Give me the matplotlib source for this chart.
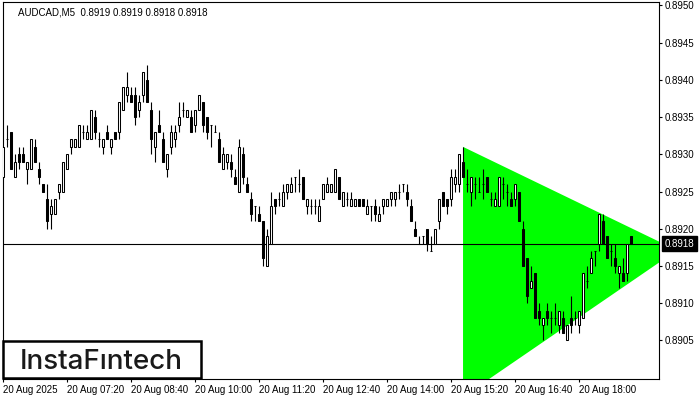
import matplotlib
matplotlib.use("Agg")
import matplotlib.pyplot as plt
import matplotlib.patches as patches
import matplotlib.transforms as mtransforms

# AUDCAD M5 candles, 06:00 .. 19:05 (20 Aug 2025)
opens = [
    0.8927, 0.8932, 0.8933, 0.8927, 0.8930, 0.8930, 0.8928, 0.8928, 0.8931, 0.8928,
    0.8926, 0.8924, 0.8922, 0.8922, 0.8925, 0.8925, 0.8928, 0.8931, 0.8931, 0.8931,
    0.8933, 0.8932, 0.8932, 0.8935, 0.8932, 0.8931, 0.8933, 0.8931, 0.8933, 0.8933,
    0.8936, 0.8938, 0.8938, 0.8938, 0.8936, 0.8938, 0.8940, 0.8936, 0.8931, 0.8934,
    0.8932, 0.8928, 0.8931, 0.8932, 0.8934, 0.8936, 0.8935, 0.8935, 0.8934, 0.8936,
    0.8937, 0.8935, 0.8934, 0.8933, 0.8932, 0.8928, 0.8929, 0.8929, 0.8927, 0.8925,
    0.8930, 0.8926, 0.8924, 0.8923, 0.8922, 0.8921, 0.8915, 0.8918, 0.8924, 0.8924,
    0.8923, 0.8925, 0.8925, 0.8927, 0.8926, 0.8927, 0.8923, 0.8923, 0.8923, 0.8921,
    0.8924, 0.8925, 0.8925, 0.8925, 0.8927, 0.8923, 0.8924, 0.8923, 0.8923, 0.8924,
    0.8924, 0.8922, 0.8923, 0.8923, 0.8921, 0.8923, 0.8923, 0.8924, 0.8924, 0.8925,
    0.8926, 0.8925, 0.8923, 0.8920, 0.8918, 0.8919, 0.8920, 0.8917, 0.8918, 0.8921,
    0.8925, 0.8924, 0.8924, 0.8926, 0.8926, 0.8929, 0.8926, 0.8925, 0.8926, 0.8925,
    0.8926, 0.8927, 0.8924, 0.8923, 0.8923, 0.8926, 0.8925, 0.8924, 0.8924, 0.8925,
    0.8920, 0.8916, 0.8912, 0.8914, 0.8909, 0.8907, 0.8909, 0.8908, 0.8908, 0.8907,
    0.8908, 0.8905, 0.8908, 0.8908, 0.8907, 0.8908, 0.8913, 0.8914, 0.8917, 0.8918,
    0.8921, 0.8919, 0.8917, 0.8916, 0.8914, 0.8914, 0.8914, 0.8919,
]
highs = [
    0.8931, 0.8934, 0.8933, 0.8930, 0.8931, 0.8931, 0.8929, 0.8932, 0.8932, 0.8929,
    0.8926, 0.8926, 0.8924, 0.8924, 0.8926, 0.8929, 0.8930, 0.8932, 0.8932, 0.8934,
    0.8934, 0.8934, 0.8936, 0.8936, 0.8933, 0.8932, 0.8934, 0.8932, 0.8933, 0.8937,
    0.8939, 0.8941, 0.8939, 0.8939, 0.8938, 0.8941, 0.8942, 0.8937, 0.8933, 0.8936,
    0.8933, 0.8930, 0.8934, 0.8934, 0.8937, 0.8937, 0.8936, 0.8936, 0.8936, 0.8938,
    0.8937, 0.8935, 0.8934, 0.8934, 0.8933, 0.8931, 0.8930, 0.8930, 0.8928, 0.8932,
    0.8931, 0.8927, 0.8925, 0.8923, 0.8923, 0.8921, 0.8920, 0.8925, 0.8924, 0.8925,
    0.8926, 0.8926, 0.8927, 0.8927, 0.8928, 0.8927, 0.8924, 0.8924, 0.8924, 0.8924,
    0.8926, 0.8927, 0.8926, 0.8928, 0.8927, 0.8925, 0.8925, 0.8925, 0.8924, 0.8924,
    0.8924, 0.8924, 0.8923, 0.8924, 0.8923, 0.8924, 0.8924, 0.8925, 0.8925, 0.8926,
    0.8926, 0.8926, 0.8924, 0.8921, 0.8919, 0.8919, 0.8920, 0.8919, 0.8920, 0.8924,
    0.8925, 0.8924, 0.8928, 0.8928, 0.8930, 0.8931, 0.8928, 0.8927, 0.8927, 0.8927,
    0.8928, 0.8927, 0.8925, 0.8925, 0.8927, 0.8927, 0.8926, 0.8925, 0.8926, 0.8925,
    0.8921, 0.8916, 0.8915, 0.8914, 0.8910, 0.8908, 0.8910, 0.8909, 0.8910, 0.8909,
    0.8909, 0.8907, 0.8911, 0.8909, 0.8909, 0.8914, 0.8915, 0.8917, 0.8917, 0.8922,
    0.8922, 0.8919, 0.8918, 0.8918, 0.8915, 0.8916, 0.8918, 0.8919,
]
lows = [
    0.8927, 0.8931, 0.8928, 0.8927, 0.8928, 0.8929, 0.8926, 0.8928, 0.8929, 0.8926,
    0.8925, 0.8920, 0.8920, 0.8922, 0.8924, 0.8925, 0.8928, 0.8930, 0.8931, 0.8931,
    0.8932, 0.8932, 0.8932, 0.8932, 0.8931, 0.8930, 0.8932, 0.8930, 0.8932, 0.8932,
    0.8936, 0.8937, 0.8937, 0.8934, 0.8935, 0.8937, 0.8937, 0.8930, 0.8929, 0.8933,
    0.8929, 0.8927, 0.8930, 0.8931, 0.8933, 0.8935, 0.8935, 0.8933, 0.8933, 0.8936,
    0.8933, 0.8932, 0.8931, 0.8933, 0.8929, 0.8928, 0.8928, 0.8927, 0.8926, 0.8925,
    0.8926, 0.8925, 0.8921, 0.8921, 0.8921, 0.8915, 0.8915, 0.8918, 0.8922, 0.8923,
    0.8923, 0.8924, 0.8925, 0.8925, 0.8925, 0.8924, 0.8922, 0.8922, 0.8922, 0.8921,
    0.8924, 0.8925, 0.8925, 0.8925, 0.8924, 0.8923, 0.8923, 0.8923, 0.8923, 0.8923,
    0.8923, 0.8922, 0.8921, 0.8921, 0.8921, 0.8922, 0.8923, 0.8923, 0.8923, 0.8924,
    0.8925, 0.8923, 0.8921, 0.8919, 0.8918, 0.8918, 0.8917, 0.8917, 0.8918, 0.8920,
    0.8923, 0.8922, 0.8923, 0.8925, 0.8925, 0.8927, 0.8925, 0.8923, 0.8924, 0.8925,
    0.8924, 0.8925, 0.8923, 0.8923, 0.8923, 0.8924, 0.8923, 0.8923, 0.8923, 0.8921,
    0.8915, 0.8910, 0.8912, 0.8908, 0.8907, 0.8905, 0.8907, 0.8906, 0.8907, 0.8906,
    0.8906, 0.8905, 0.8906, 0.8907, 0.8906, 0.8908, 0.8912, 0.8914, 0.8915, 0.8917,
    0.8918, 0.8916, 0.8915, 0.8914, 0.8912, 0.8913, 0.8913, 0.8918,
]
closes = [
    0.8931, 0.8932, 0.8928, 0.8929, 0.8929, 0.8929, 0.8929, 0.8932, 0.8929, 0.8927,
    0.8925, 0.8921, 0.8923, 0.8924, 0.8926, 0.8929, 0.8930, 0.8932, 0.8932, 0.8934,
    0.8933, 0.8933, 0.8936, 0.8933, 0.8932, 0.8932, 0.8932, 0.8932, 0.8932, 0.8937,
    0.8939, 0.8939, 0.8937, 0.8935, 0.8937, 0.8941, 0.8937, 0.8932, 0.8933, 0.8933,
    0.8929, 0.8930, 0.8933, 0.8933, 0.8935, 0.8936, 0.8936, 0.8933, 0.8936, 0.8938,
    0.8934, 0.8933, 0.8934, 0.8933, 0.8929, 0.8930, 0.8930, 0.8928, 0.8926, 0.8931,
    0.8927, 0.8925, 0.8922, 0.8923, 0.8921, 0.8916, 0.8919, 0.8923, 0.8923, 0.8924,
    0.8925, 0.8926, 0.8926, 0.8927, 0.8926, 0.8924, 0.8924, 0.8923, 0.8923, 0.8923,
    0.8926, 0.8926, 0.8926, 0.8928, 0.8924, 0.8925, 0.8924, 0.8924, 0.8924, 0.8923,
    0.8923, 0.8923, 0.8923, 0.8922, 0.8922, 0.8924, 0.8924, 0.8925, 0.8925, 0.8925,
    0.8926, 0.8924, 0.8921, 0.8919, 0.8918, 0.8919, 0.8918, 0.8917, 0.8920, 0.8924,
    0.8923, 0.8923, 0.8927, 0.8927, 0.8930, 0.8927, 0.8926, 0.8927, 0.8926, 0.8925,
    0.8926, 0.8925, 0.8924, 0.8924, 0.8927, 0.8926, 0.8925, 0.8923, 0.8926, 0.8921,
    0.8915, 0.8911, 0.8913, 0.8908, 0.8908, 0.8908, 0.8908, 0.8908, 0.8908, 0.8909,
    0.8906, 0.8907, 0.8907, 0.8908, 0.8909, 0.8914, 0.8913, 0.8916, 0.8917, 0.8922,
    0.8918, 0.8916, 0.8917, 0.8915, 0.8915, 0.8913, 0.8918, 0.8918,
]

time_labels = ["20 Aug 2025", "20 Aug 07:20", "20 Aug 08:40", "20 Aug 10:00",
               "20 Aug 11:20", "20 Aug 12:40", "20 Aug 14:00", "20 Aug 15:20",
               "20 Aug 16:40", "20 Aug 18:00"]
price_ticks = [0.8905, 0.8910, 0.8915, 0.8920, 0.8925, 0.8930, 0.8935, 0.8940, 0.8945, 0.8950]
bid = 0.8918

# symmetrical triangle (bar index, price)
tri_x = [115.1, 168.6, 115.1]
tri_y = [0.8931, 0.89171, 0.88974]

font = "Liberation Sans"
plt.rcParams["font.family"] = font

fig = plt.figure(figsize=(7, 4), dpi=100)
ax = fig.add_axes([2.5 / 700, 21 / 400, 656.5 / 700, 377 / 400])

xs = list(range(len(opens)))

ax.fill(tri_x, tri_y, color="#00ff00", lw=0, zorder=1)
ax.axhline(bid, color="black", lw=0.8, zorder=2)

ax.vlines(xs, lows, highs, color="black", lw=0.8, zorder=3)
body_col = ["white" if c >= o else "black" for o, c in zip(opens, closes)]
heights = [c - o for o, c in zip(opens, closes)]
ax.bar(xs, heights, bottom=opens, width=0.55, color=body_col,
       edgecolor="black", linewidth=0.75, zorder=4)

ax.set_xlim(-0.05, 164.1)
ax.set_ylim(0.88998, 0.895047)

for s in ax.spines.values():
    s.set_color("black")
    s.set_linewidth(0.8)

ax.yaxis.tick_right()
ax.set_yticks(price_ticks)
ax.set_yticklabels([f"{p:.4f}" for p in price_ticks])
ax.tick_params(axis="y", length=2, width=0.8, pad=2.2, labelsize=7)

ax.set_xticks(range(0, len(time_labels) * 16, 16))
ax.set_xticklabels(time_labels, ha="left")
ax.tick_params(axis="x", length=2.5, width=0.8, pad=2, labelsize=7)

# bid label on the price scale
trans = mtransforms.blended_transform_factory(ax.transAxes, ax.transData)
ax.text(1 + 5.5 / 656.5, bid, f"{bid:.4f}", transform=trans, ha="left", va="center",
        color="white", fontsize=7, clip_on=False, zorder=10,
        bbox=dict(boxstyle="square,pad=0.25", fc="black", ec="black"))

title = f"AUDCAD,M5  {opens[-1]:.4f} {highs[-1]:.4f} {lows[-1]:.4f} {closes[-1]:.4f}"
fig.text(18 / 700, 1 - 12.5 / 400, title, ha="left", va="center", fontsize=7)

# logo box
box = patches.Rectangle((2.7 / 700, 21.7 / 400), 198.6 / 700, 37.6 / 400,
                        transform=fig.transFigure, fc="white", ec="black", lw=1.8, zorder=5)
fig.patches.append(box)
fig.text(101.5 / 700, (400 - 369.3) / 400, "InstaF\u0131ntech", ha="center", va="baseline",
         fontsize=20, fontweight="medium", color="#1a1a1a",
         family=["Inter", "DejaVu Sans"], zorder=6)

fig.savefig("out.png", dpi=100)
